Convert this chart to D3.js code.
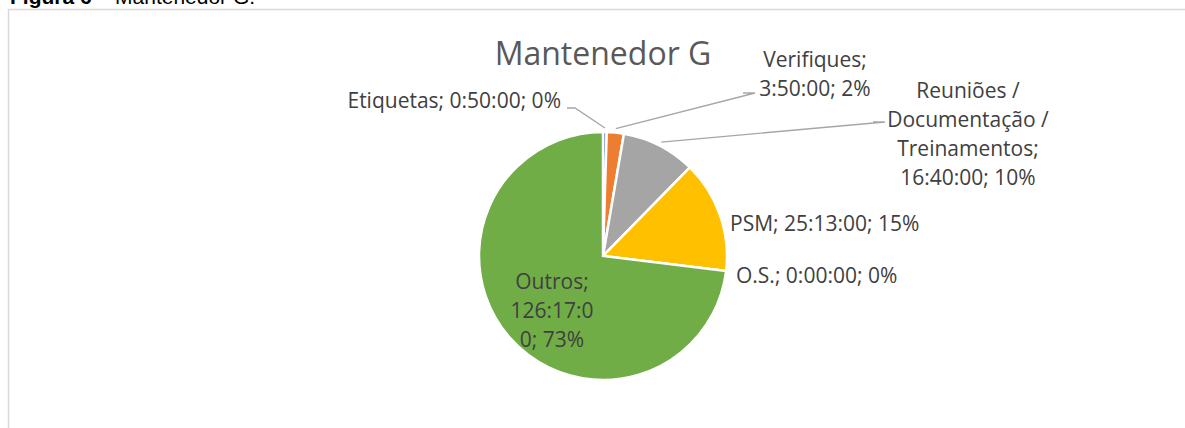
<!DOCTYPE html>
<meta charset="utf-8">
<script src="https://d3js.org/d3.v7.min.js"></script>
<style>
  body { margin: 0; background: #fff; }
  text { font-family: "Open Sans", sans-serif; }
</style>
<div id="my_dataviz"></div>
<script>

// data (hours:minutes:seconds)
var categories = ["Etiquetas", "Verifiques", "Reuniões / Documentação / Treinamentos", "PSM", "O.S.", "Outros"];
var durations = ["0:50:00", "3:50:00", "16:40:00", "25:13:00", "0:00:00", "126:17:00"];
var percents = ["0%", "2%", "10%", "15%", "0%", "73%"];
var colors = ["#4472C4", "#ED7D31", "#A5A5A5", "#FFC000", "#5B9BD5", "#70AD47"];

// label lines as Excel wrapped them
var labelLines = [
  ["Etiquetas; 0:50:00; 0%"],
  ["Verifiques;", "3:50:00; 2%"],
  ["Reuniões /", "Documentação /", "Treinamentos;", "16:40:00; 10%"],
  ["PSM; 25:13:00; 15%"],
  ["O.S.; 0:00:00; 0%"],
  ["Outros;", "126:17:0", "0; 73%"]
];

function toHours(s) {
  var p = s.split(":").map(Number);
  return p[0] + p[1] / 60 + p[2] / 3600;
}
var data = categories.map(function(c, i) {
  return {name: c, value: toHours(durations[i]), i: i};
});

var width = 1185, height = 428;
var cx = 603, cy = 256, radius = 124;

var svg = d3.select("#my_dataviz")
  .append("svg")
    .attr("width", width)
    .attr("height", height);

// caption cut at the top of the page
var cap = svg.append("text")
  .attr("x", 10)
  .attr("y", 4)
  .style("font-family", "Arial, 'Liberation Sans', sans-serif")
  .style("font-size", "21px")
  .style("fill", "#000");
cap.append("tspan").style("font-weight", "bold").text("Figura 6");
cap.append("tspan").text(" – Mantenedor G.");

// chart frame
svg.append("rect")
  .attr("x", 8.5)
  .attr("y", 9.5)
  .attr("width", 1200)
  .attr("height", 450)
  .attr("fill", "none")
  .attr("stroke", "#d9d9d9")
  .attr("stroke-width", 1.5);

// title
svg.append("text")
  .attr("x", cx)
  .attr("y", 65)
  .attr("text-anchor", "middle")
  .style("font-size", "32px")
  .style("fill", "#595959")
  .text("Mantenedor G");

var pie = d3.pie()
  .sort(null)
  .value(function(d) { return d.value; });

var arc = d3.arc()
  .innerRadius(0)
  .outerRadius(radius);

var arcs = pie(data);

var g = svg.append("g")
  .attr("transform", "translate(" + cx + "," + cy + ")");

g.selectAll("path")
  .data(arcs)
  .enter()
  .append("path")
    .attr("d", arc)
    .attr("fill", function(d) { return colors[d.data.i]; })
    .attr("stroke", "#fff")
    .attr("stroke-width", 2.5);

// label anchors (center of the text block) and leader line elbows
var labelPos = [
  {x: 561, y: 101, anchor: "end", elbow: [[567, 108], [575, 108]]},
  {x: 815, y: 74, anchor: "middle", elbow: [[743, 93], [755, 93]]},
  {x: 968, y: 134, anchor: "middle", elbow: [[873, 122], [885, 122]]},
  {x: 730, y: 224, anchor: "start"},
  {x: 736, y: 276, anchor: "start"},
  {x: 552, y: 311, anchor: "middle"}
];

var lineH = 29;

// leader lines
var outer = d3.arc().innerRadius(radius + 4).outerRadius(radius + 4);
arcs.forEach(function(a, i) {
  var lp = labelPos[i];
  if (!lp.elbow) return;
  var p = outer.centroid(a);
  var pts = [[cx + p[0], cy + p[1]], lp.elbow[1], lp.elbow[0]];
  svg.append("path")
    .attr("d", d3.line()(pts))
    .attr("fill", "none")
    .attr("stroke", "#a6a6a6")
    .attr("stroke-width", 1.3);
});

// labels
labelLines.forEach(function(lines, i) {
  var lp = labelPos[i];
  var t = svg.append("text")
    .attr("text-anchor", lp.anchor)
    .style("font-size", "21px")
    .style("fill", "#404040");
  var y0 = lp.y - (lines.length - 1) * lineH / 2;
  lines.forEach(function(l, k) {
    t.append("tspan")
      .attr("x", lp.x)
      .attr("y", y0 + k * lineH)
      .attr("dy", "0.35em")
      .text(l);
  });
});

</script>
